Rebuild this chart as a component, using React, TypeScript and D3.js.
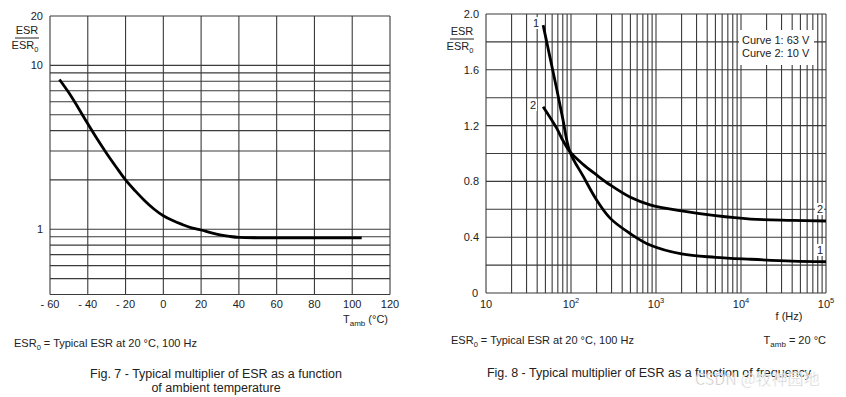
import * as d3 from 'd3';

// Fig. 7 data
const tempC = [-55, -50, -45, -40, -35, -30, -25, -20, -15, -10, -5, 0, 5, 10, 15, 20, 25, 30, 35, 40, 50, 60, 70, 80, 90, 100, 105];
const esrTemp = [8.2, 6.8, 5.5, 4.4, 3.55, 2.9, 2.4, 2.0, 1.72, 1.5, 1.33, 1.21, 1.13, 1.07, 1.02, 0.99, 0.955, 0.925, 0.905, 0.892, 0.887, 0.885, 0.885, 0.885, 0.885, 0.885, 0.885];
const tempTicks = [-60, -40, -20, 0, 20, 40, 60, 80, 100, 120];
const tempTickLabels = ['- 60', '- 40', '- 20', '0', '20', '40', '60', '80', '100', '120'];
const leftYLabels = [20, 10, 1];

// Fig. 8 data
const freqHz = [47, 68, 80, 97, 140, 200, 290, 500, 850, 2000, 5000, 13000, 40000, 100000];
const curve1 = [1.92, 1.46, 1.25, 1.013, 0.834, 0.667, 0.535, 0.425, 0.344, 0.28, 0.256, 0.242, 0.229, 0.224];
const curve2 = [1.335, 1.18, 1.095, 1.013, 0.92, 0.846, 0.774, 0.686, 0.632, 0.588, 0.554, 0.53, 0.521, 0.516];
const freqTicks = [10, 100, 1000, 10000, 100000];
const freqExp = ['', '2', '3', '4', '5'];
const rightYLabels = [2.0, 1.6, 1.2, 0.8, 0.4, 0];

const FONT = '"Liberation Sans", Arial, sans-serif';
const GRID = '#3a3a3a';

const L = { x0: 50, x1: 390, y0: 16, y1: 294.5 };
const R = { x0: 486, x1: 826, y0: 14, y1: 293 };

const EsrLabel = ({ x, y }: { x: number; y: number }) => (
  <g fontFamily={FONT} fontSize={11} fill="#222" textAnchor="middle">
    <text x={x} y={y}>ESR</text>
    <line x1={x - 12} x2={x + 12} y1={y + 4} y2={y + 4} stroke="#222" strokeWidth={1} />
    <text x={x - 2} y={y + 15}>
      ESR<tspan fontSize={7.5} dy={3}>0</tspan>
    </text>
  </g>
);

const App = () => {
  // left chart scales
  const xT = d3.scaleLinear().domain([-60, 120]).range([L.x0, L.x1]);
  const yT = d3.scaleLog().domain([0.4, 20]).range([L.y1, L.y0]);
  const lineT = d3
    .line<number>()
    .x((_, i) => xT(tempC[i]))
    .y((d) => yT(d))
    .curve(d3.curveMonotoneX);

  // right chart scales
  const xF = d3.scaleLog().domain([10, 100000]).range([R.x0, R.x1]);
  const yF = d3.scaleLinear().domain([0, 2]).range([R.y1, R.y0]);
  const lineF = d3
    .line<number>()
    .x((_, i) => xF(freqHz[i]))
    .y((d) => yF(d))
    .curve(d3.curveCatmullRom.alpha(0.5));

  const txt = { fontFamily: FONT, fontSize: 11, fill: '#222' };
  const cap = { fontFamily: FONT, fontSize: 12.5, fill: '#222' };

  return (
    <svg width={846} height={397} style={{ position: 'absolute', left: 0, top: 0, background: '#fff' }}>
      {/* ---------- Fig. 7 ---------- */}
      <g stroke={GRID} strokeWidth={1.1}>
        {yT.ticks().map((v) => (
          <line key={'lh' + v} x1={L.x0} x2={L.x1} y1={yT(v)} y2={yT(v)} />
        ))}
        {tempTicks.map((v) => (
          <line key={'lv' + v} x1={xT(v)} x2={xT(v)} y1={L.y0} y2={L.y1} />
        ))}
      </g>
      <path d={lineT(esrTemp) || ''} fill="none" stroke="#000" strokeWidth={2.8} />
      {leftYLabels.map((v) => (
        <text key={'ly' + v} x={43} y={yT(v) + 4} textAnchor="end" {...txt}>
          {v}
        </text>
      ))}
      <EsrLabel x={27} y={34} />
      {tempTicks.map((v, i) => (
        <text key={'lx' + v} x={xT(v)} y={308} textAnchor="middle" {...txt}>
          {tempTickLabels[i]}
        </text>
      ))}
      <text x={343} y={323} {...txt}>
        T<tspan fontSize={8} dy={3}>amb</tspan>
        <tspan dy={-3}> (°C)</tspan>
      </text>
      <text x={14} y={347} {...txt}>
        ESR<tspan fontSize={7.5} dy={3}>0</tspan>
        <tspan dy={-3}> = Typical ESR at 20 °C, 100 Hz</tspan>
      </text>
      <text x={216} y={378} textAnchor="middle" {...cap}>
        Fig. 7 - Typical multiplier of ESR as a function
      </text>
      <text x={216} y={392} textAnchor="middle" {...cap}>
        of ambient temperature
      </text>

      {/* ---------- Fig. 8 ---------- */}
      <g stroke={GRID} strokeWidth={1.1}>
        {yF.ticks(10).map((v) => (
          <line key={'rh' + v} x1={R.x0} x2={R.x1} y1={yF(v)} y2={yF(v)} />
        ))}
        {xF.ticks().map((v) => (
          <line key={'rv' + v} x1={xF(v)} x2={xF(v)} y1={R.y0} y2={R.y1} />
        ))}
      </g>
      <rect x={739} y={30} width={75} height={35} fill="#fff" />
      <text x={742} y={44} {...txt}>Curve 1: 63 V</text>
      <text x={742} y={57} {...txt}>Curve 2: 10 V</text>
      <path d={lineF(curve1) || ''} fill="none" stroke="#000" strokeWidth={2.8} />
      <path d={lineF(curve2) || ''} fill="none" stroke="#000" strokeWidth={2.8} />
      {/* curve number tags */}
      <rect x={532} y={17} width={8} height={12} fill="#fff" />
      <text x={536} y={27} textAnchor="middle" {...txt}>1</text>
      <rect x={529} y={99} width={8} height={12} fill="#fff" />
      <text x={533} y={109} textAnchor="middle" {...txt}>2</text>
      <rect x={815} y={203} width={9} height={12} fill="#fff" />
      <text x={820} y={213} textAnchor="middle" {...txt}>2</text>
      <rect x={815} y={244} width={9} height={12} fill="#fff" />
      <text x={820} y={254} textAnchor="middle" {...txt}>1</text>

      {rightYLabels.map((v) => (
        <text key={'ry' + v} x={v === 0 ? 478 : 479} y={yF(v) + 4} textAnchor="end" {...txt}>
          {v === 0 ? '0' : v.toFixed(1)}
        </text>
      ))}
      <EsrLabel x={462} y={35} />
      {freqTicks.map((v, i) => (
        <text key={'rx' + v} x={xF(v)} y={308} textAnchor="middle" {...txt}>
          10
          {freqExp[i] && (
            <tspan fontSize={7.5} dy={-5}>
              {freqExp[i]}
            </tspan>
          )}
        </text>
      ))}
      <text x={789} y={320} textAnchor="middle" {...txt}>f (Hz)</text>
      <text x={451} y={344} {...txt}>
        ESR<tspan fontSize={7.5} dy={3}>0</tspan>
        <tspan dy={-3}> = Typical ESR at 20 °C, 100 Hz</tspan>
      </text>
      <text x={826} y={344} textAnchor="end" {...txt}>
        T<tspan fontSize={8} dy={3}>amb</tspan>
        <tspan dy={-3}> = 20 °C</tspan>
      </text>
      <text x={649} y={377} textAnchor="middle" {...cap}>
        Fig. 8 - Typical multiplier of ESR as a function of frequency
      </text>
      <text
        x={695}
        y={385}
        fontFamily={'"Noto Sans CJK SC", "Liberation Sans", sans-serif'}
        fontSize={16}
        fill="#b5b5b5"
        stroke="#fff"
        strokeWidth={0.6}
        opacity={0.9}
      >
        CSDN @牧神园地
      </text>
    </svg>
  );
};

export default App;
